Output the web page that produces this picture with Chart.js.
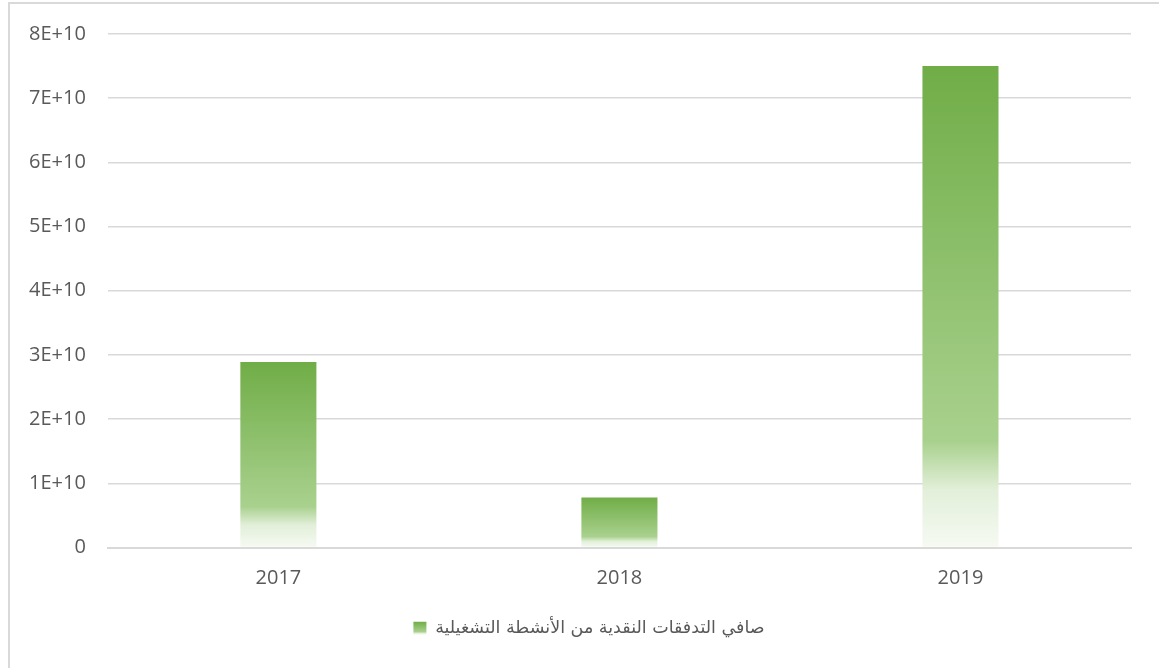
<!DOCTYPE html>
<html lang="ar">
<head>
  <meta charset="UTF-8">
  <title>صافي التدفقات النقدية من الأنشطة التشغيلية</title>
  <script src="https://cdn.jsdelivr.net/npm/chart.js"></script>
  <style>
    html, body {
      margin: 0;
      padding: 0;
      background: #fff;
      overflow: hidden;
    }
    .frame {
      position: absolute;
      left: 8px;
      top: 2px;
      width: 1170px;
      height: 700px;
      border: 2px solid #d9d9d9;
      box-sizing: border-box;
    }
    .chart-box {
      position: absolute;
      left: 0;
      top: 0;
      width: 1159px;
      height: 668px;
    }
  </style>
</head>
<body>
  <div class="frame"></div>
  <div class="chart-box">
    <canvas id="barChart"></canvas>
  </div>

  <script>
    // data
    const years = ["2017", "2018", "2019"];
    const netCashFlow = [2.89e10, 0.78e10, 7.5e10];
    const seriesName = "صافي التدفقات النقدية من الأنشطة التشغيلية";
    const tickLabels = ["0", "1E+10", "2E+10", "3E+10", "4E+10", "5E+10", "6E+10", "7E+10", "8E+10"];

    const green = "#70ad47";

    // vertical fade: solid green at top, almost white at the base
    function barGradient(ctx, top, bottom) {
      const g = ctx.createLinearGradient(0, top, 0, bottom);
      g.addColorStop(0, "rgba(112,173,71,1)");
      g.addColorStop(0.78, "rgba(169,209,142,1)");
      g.addColorStop(0.88, "rgba(226,239,217,1)");
      g.addColorStop(1, "rgba(246,250,243,1)");
      return g;
    }

    // legend sits a bit right of centre in the original, and its box is faded too
    const legendTweak = {
      id: "legendTweak",
      afterLayout(chart) {
        const legend = chart.legend;
        if (!legend) return;
        const shift = 20;
        legend.left += shift;
        legend.right += shift;
        legend.legendHitBoxes.forEach(function (h) { h.left += shift; });
      },
      afterDraw(chart) {
        const legend = chart.legend;
        if (!legend || !legend.legendHitBoxes.length) return;
        const hb = legend.legendHitBoxes[0];
        const ctx = chart.ctx;
        const size = 13;
        const x = hb.left;
        const y = hb.top + (hb.height - size) / 2;
        ctx.save();
        ctx.fillStyle = "#fff";
        ctx.fillRect(x - 1, y - 1, size + 2, size + 2);
        ctx.fillStyle = barGradient(ctx, y, y + size);
        ctx.fillRect(x, y, size, size);
        ctx.restore();
      }
    };

    const barChart = new Chart(document.getElementById("barChart"), {
      type: "bar",
      data: {
        labels: years,
        datasets: [{
          label: seriesName,
          data: netCashFlow,
          backgroundColor: function (context) {
            const chart = context.chart;
            const area = chart.chartArea;
            if (!area || context.type !== "data") return green;
            const y = chart.scales.y;
            const top = y.getPixelForValue(context.raw);
            const base = y.getPixelForValue(0);
            return barGradient(chart.ctx, top, base);
          },
          categoryPercentage: 1,
          barPercentage: 0.223
        }]
      },
      options: {
        responsive: true,
        maintainAspectRatio: false,
        animation: false,
        layout: {
          padding: { left: 7, right: 28, top: 23, bottom: 21 }
        },
        plugins: {
          legend: {
            position: "bottom",
            labels: {
              boxWidth: 13,
              boxHeight: 13,
              padding: 18,
              color: "#595959",
              font: { family: "'DejaVu Sans', Arial, sans-serif", size: 17.5 }
            }
          },
          tooltip: { enabled: false }
        },
        scales: {
          x: {
            grid: { display: false },
            border: { display: true, color: "#d9d9d9", width: 2 },
            ticks: {
              color: "#595959",
              padding: 11,
              font: { family: "'Open Sans', sans-serif", size: 20 }
            }
          },
          y: {
            min: 0,
            max: 8e10,
            grid: { color: "#d9d9d9", lineWidth: 1.5, drawTicks: false },
            border: { display: false },
            ticks: {
              stepSize: 1e10,
              padding: 22,
              color: "#595959",
              font: { family: "'Open Sans', sans-serif", size: 20 },
              callback: function (value) {
                return tickLabels[Math.round(value / 1e10)];
              }
            }
          }
        }
      },
      plugins: [legendTweak]
    });
  </script>
</body>
</html>
